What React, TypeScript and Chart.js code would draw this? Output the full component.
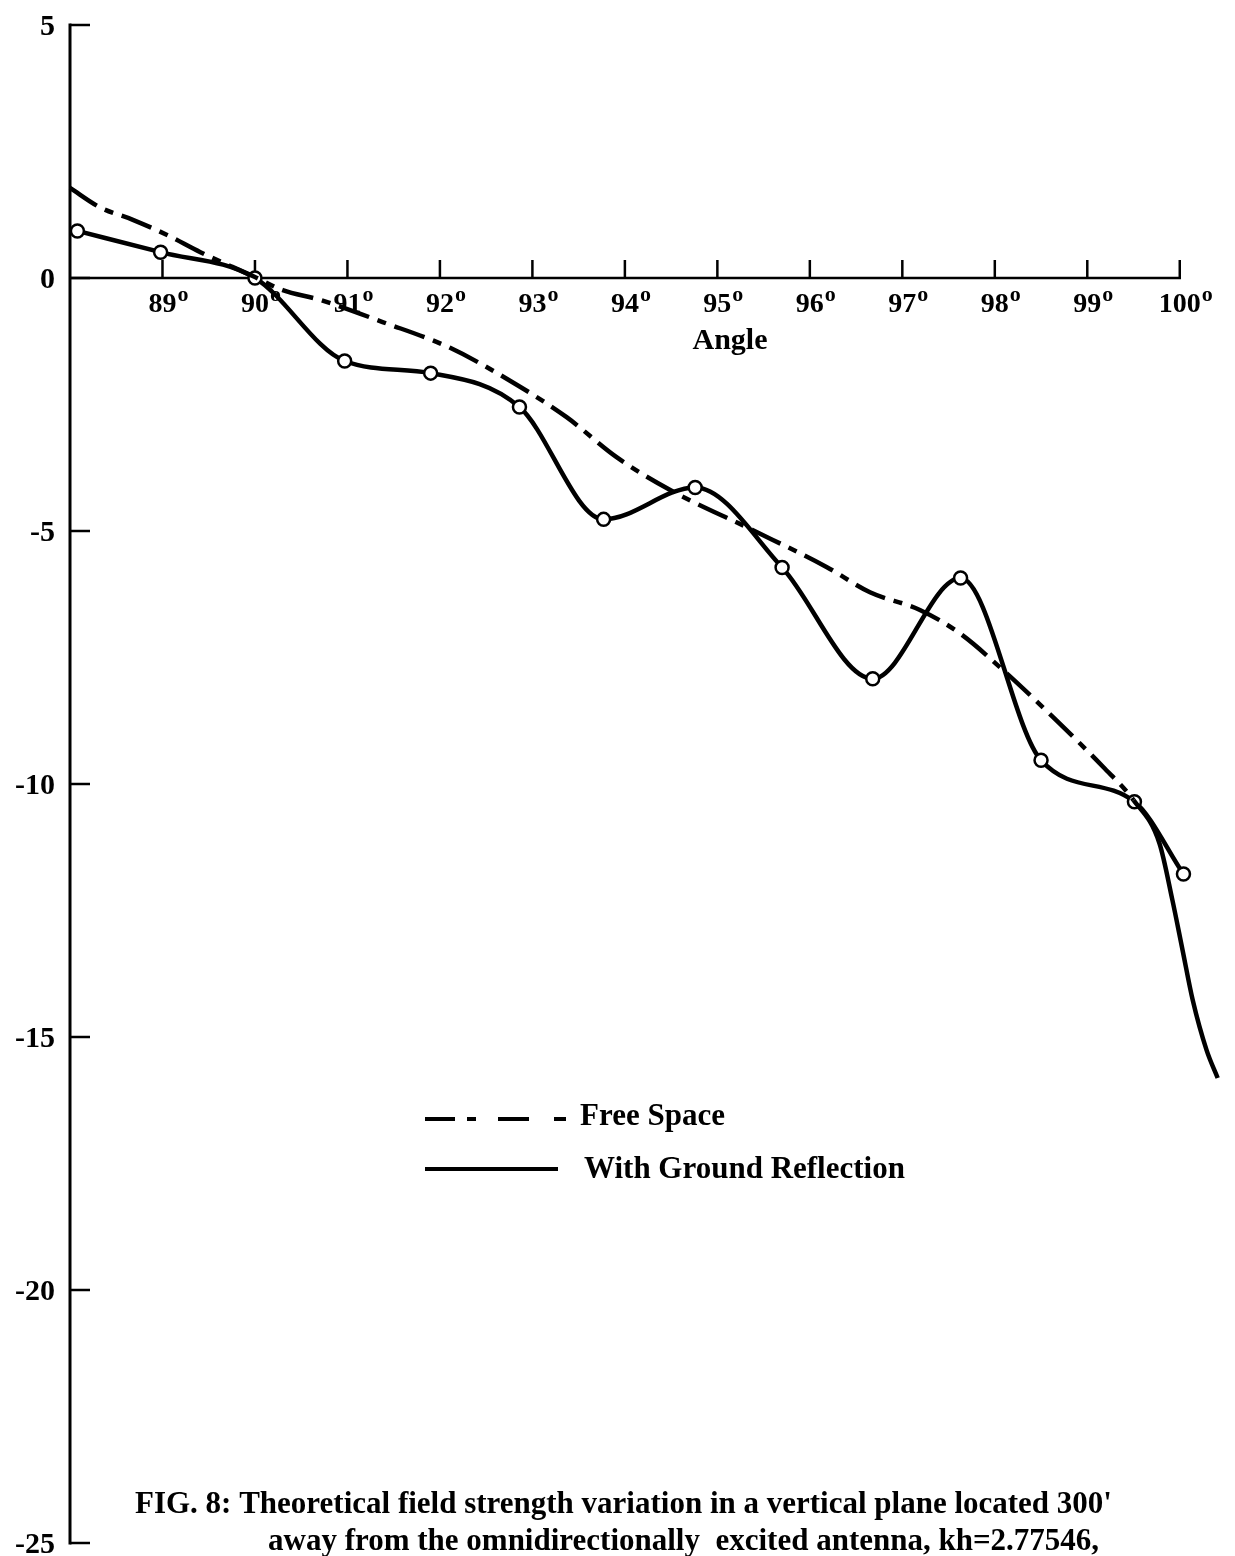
import React, { useEffect, useRef } from "react";
import { Chart, registerables } from "chart.js";

Chart.register(...registerables);

// Field strength (dB) with ground reflection, at the computed angles (marked points)
const reflectionAngles = [88.08, 88.98, 90.0, 90.97, 91.9, 92.86, 93.77, 94.76, 95.7, 96.68, 97.63, 98.5, 99.51, 100.04];
const reflectionDb = [0.93, 0.51, 0.0, -1.64, -1.88, -2.55, -4.77, -4.14, -5.72, -7.92, -5.93, -9.53, -10.35, -11.78];

// Free-space field strength (dB) traced along the angle range
const freeSpaceAngles = [88.0, 88.32, 88.68, 89.05, 89.41, 90.0, 90.3, 90.7, 91.38, 92.11, 92.83, 93.37, 93.91, 94.49, 95.38, 96.18, 96.65, 97.19, 97.62, 98.09, 98.63, 99.17, 99.5, 99.78, 99.92, 100.03, 100.14, 100.29, 100.41];
const freeSpaceDb = [1.78, 1.4, 1.15, 0.85, 0.51, 0.02, -0.24, -0.43, -0.87, -1.38, -2.11, -2.75, -3.54, -4.19, -4.98, -5.71, -6.21, -6.56, -7.02, -7.75, -8.68, -9.66, -10.32, -11.17, -12.29, -13.28, -14.27, -15.26, -15.81];
// beyond this angle the free-space curve is drawn as a full line
const freeSpaceSolidFrom = 99.5;

const angleTicks = [89, 90, 91, 92, 93, 94, 95, 96, 97, 98, 99, 100];
const dbTicks = [5, 0, -5, -10, -15, -20, -25];
const angleMin = 88;
const angleMax = 100.5;
const dbMin = -25;
const dbMax = 5;

const axisTitle = "Angle";
const degreeMark = "o";
const legendLabels = ["Free Space", "With Ground Reflection"];
const captionLines = [
  "FIG. 8: Theoretical field strength variation in a vertical plane located 300'",
  "away from the omnidirectionally  excited antenna, kh=2.77546,",
];

const SERIF = '"Liberation Serif", "Times New Roman", serif';
const INK = "#000";
const DASH_DOT = [32, 9, 9, 9];

const paperAxes = {
  id: "paperAxes",
  beforeDatasetsDraw(chart: any) {
    const { ctx } = chart;
    const x = chart.scales.x;
    const y = chart.scales.y;
    const x0 = x.getPixelForValue(angleMin);
    const yTop = y.getPixelForValue(dbMax);
    const yBottom = y.getPixelForValue(dbMin);
    const yZero = y.getPixelForValue(0);
    ctx.save();
    ctx.strokeStyle = INK;
    ctx.fillStyle = INK;
    ctx.lineCap = "butt";

    // vertical axis with inward ticks
    ctx.lineWidth = 3;
    ctx.beginPath();
    ctx.moveTo(x0, yTop - 1.5);
    ctx.lineTo(x0, yBottom + 1.5);
    ctx.stroke();
    ctx.lineWidth = 2.5;
    ctx.font = `bold 30px ${SERIF}`;
    ctx.textAlign = "right";
    ctx.textBaseline = "alphabetic";
    for (const v of dbTicks) {
      const py = y.getPixelForValue(v);
      ctx.beginPath();
      ctx.moveTo(x0, py);
      ctx.lineTo(x0 + 20, py);
      ctx.stroke();
      ctx.fillText(String(v), 55, py + 10);
    }

    // horizontal axis along 0 dB, ticks pointing up
    const xEnd = x.getPixelForValue(angleTicks[angleTicks.length - 1]);
    ctx.lineWidth = 2.5;
    ctx.beginPath();
    ctx.moveTo(x0, yZero);
    ctx.lineTo(xEnd + 1.25, yZero);
    ctx.stroke();
    for (const a of angleTicks) {
      const px = x.getPixelForValue(a);
      ctx.beginPath();
      ctx.moveTo(px, yZero);
      ctx.lineTo(px, yZero - 18);
      ctx.stroke();
      const label = String(a);
      ctx.font = `bold 28px ${SERIF}`;
      ctx.textAlign = "center";
      ctx.fillText(label, px, yZero + 34);
      const w = ctx.measureText(label).width;
      ctx.font = `bold 22px ${SERIF}`;
      ctx.textAlign = "left";
      ctx.fillText(degreeMark, px + w / 2 + 1, yZero + 23);
    }
    ctx.font = `bold 30px ${SERIF}`;
    ctx.textAlign = "center";
    ctx.fillText(axisTitle, 730, yZero + 71);
    ctx.restore();
  },
  afterDraw(chart: any) {
    const { ctx } = chart;
    ctx.save();
    ctx.strokeStyle = INK;
    ctx.fillStyle = INK;
    ctx.lineWidth = 4;
    ctx.lineCap = "butt";

    // legend
    ctx.setLineDash([30, 12, 9, 22, 31, 25, 12, 100]);
    ctx.beginPath();
    ctx.moveTo(425, 1119);
    ctx.lineTo(566, 1119);
    ctx.stroke();
    ctx.setLineDash([]);
    ctx.beginPath();
    ctx.moveTo(425, 1169);
    ctx.lineTo(558, 1169);
    ctx.stroke();
    ctx.font = `bold 31px ${SERIF}`;
    ctx.textAlign = "left";
    ctx.textBaseline = "alphabetic";
    ctx.fillText(legendLabels[0], 580, 1125);
    ctx.fillText(legendLabels[1], 584, 1178);

    // caption
    ctx.font = `bold 31px ${SERIF}`;
    ctx.fillText(captionLines[0], 135, 1513);
    ctx.fillText(captionLines[1], 268, 1550);
    ctx.restore();
  },
};

export default function App() {
  const canvasRef = useRef<HTMLCanvasElement | null>(null);

  useEffect(() => {
    const canvas = canvasRef.current;
    if (!canvas) return;
    const reflection = reflectionAngles.map((a, i) => ({ x: a, y: reflectionDb[i] }));
    const freeSpace = freeSpaceAngles.map((a, i) => ({ x: a, y: freeSpaceDb[i] }));

    const chart = new Chart(canvas, {
      type: "line",
      data: {
        datasets: [
          {
            label: legendLabels[0],
            data: freeSpace,
            borderColor: INK,
            borderWidth: 4.5,
            borderDash: DASH_DOT,
            pointRadius: 0,
            cubicInterpolationMode: "monotone",
            fill: false,
            clip: false as any,
            segment: {
              borderDash: (c: any) => (c.p0.parsed.x >= freeSpaceSolidFrom - 0.001 ? [] : DASH_DOT),
            },
          },
          {
            label: legendLabels[1],
            data: reflection,
            borderColor: INK,
            borderWidth: 4.5,
            pointRadius: 6.5,
            pointBackgroundColor: "#fff",
            pointBorderColor: INK,
            pointBorderWidth: 2.5,
            cubicInterpolationMode: "monotone",
            fill: false,
            clip: false as any,
          },
        ],
      },
      options: {
        responsive: false,
        maintainAspectRatio: false,
        animation: false,
        events: [],
        layout: { padding: { left: 70, top: 25, right: 8.75, bottom: 13 } },
        plugins: {
          legend: { display: false },
          tooltip: { enabled: false },
          title: { display: false },
        },
        scales: {
          x: { type: "linear", min: angleMin, max: angleMax, display: false },
          y: { type: "linear", min: dbMin, max: dbMax, display: false },
        },
      },
      plugins: [paperAxes],
    });
    return () => chart.destroy();
  }, []);

  return (
    <div style={{ position: "absolute", left: 0, top: 0, width: 1235, height: 1556, background: "#fff" }}>
      <canvas ref={canvasRef} width={1235} height={1556} style={{ display: "block" }} />
    </div>
  );
}
